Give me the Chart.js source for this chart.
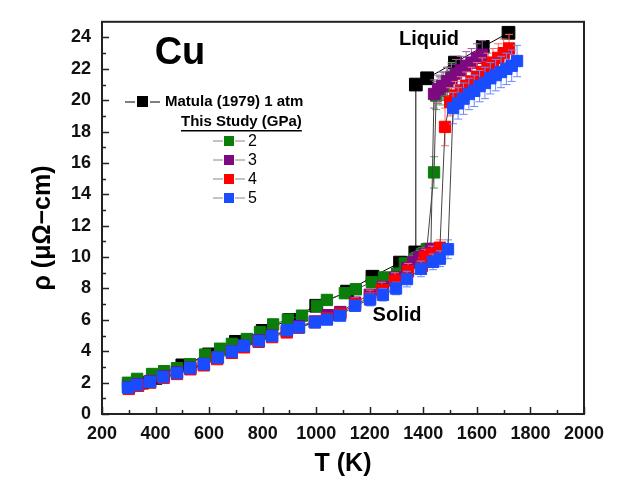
<!DOCTYPE html>
<html>
<head>
<meta charset="utf-8">
<script src="https://cdn.jsdelivr.net/npm/chart.js@4"></script>
<style>
  body { margin: 0; background: #fff; }
  canvas { display: block; }
</style>
</head>
<body>
<canvas id="rhoChart" width="619" height="479"></canvas>
<script>
// Matula (1979), 1 atm
const tMatula = [300, 350, 400, 500, 600, 700, 800, 900, 1000, 1115, 1210, 1313, 1370, 1372, 1414, 1518, 1622, 1718];
const rhoMatula = [1.8, 2.0, 2.3, 3.1, 3.8, 4.6, 5.3, 6.0, 6.9, 7.8, 8.75, 9.65, 10.3, 21.0, 21.4, 22.4, 23.4, 24.3];

// This study, 2 GPa
const t2 = [297, 331, 387, 432, 480, 529, 585, 641, 685, 741, 790, 839, 894, 947, 1003, 1040, 1107, 1148, 1208, 1253, 1302, 1331, 1370, 1395, 1413, 1440, 1448, 1462, 1476, 1490, 1505];
const rho2 = [1.99, 2.24, 2.55, 2.73, 2.92, 3.17, 3.79, 4.16, 4.47, 4.78, 5.22, 5.71, 6.02, 6.27, 6.89, 7.27, 7.7, 7.95, 8.4, 8.7, 8.95, 9.6, 9.9, 10.2, 10.5, 15.4, 20.3, 20.6, 20.9, 21.2, 21.5];
const err2 = [0.2, 0.2, 0.2, 0.2, 0.2, 0.2, 0.2, 0.2, 0.2, 0.2, 0.2, 0.2, 0.2, 0.2, 0.2, 0.2, 0.3, 0.3, 0.3, 0.3, 0.3, 0.3, 0.4, 0.4, 0.4, 1.0, 0.9, 0.9, 0.9, 0.9, 0.9];

// 3 GPa
const t3 = [300, 335, 380, 430, 480, 530, 580, 630, 685, 730, 785, 835, 890, 935, 995, 1044, 1090, 1145, 1200, 1250, 1295, 1340, 1362, 1385, 1408, 1428, 1440, 1455, 1470, 1488, 1505, 1522, 1540, 1560, 1580, 1600, 1620];
const rho3 = [1.7, 1.9, 2.1, 2.4, 2.65, 2.95, 3.2, 3.6, 4.0, 4.35, 4.7, 5.0, 5.3, 5.6, 5.9, 6.3, 6.5, 7.1, 7.6, 8.1, 8.7, 9.3, 9.7, 10.0, 10.2, 10.5, 20.4, 20.7, 20.9, 21.2, 21.4, 21.7, 21.9, 22.2, 22.4, 22.7, 22.9];
const err3 = [0.2, 0.2, 0.2, 0.2, 0.2, 0.2, 0.2, 0.2, 0.2, 0.2, 0.2, 0.2, 0.2, 0.2, 0.2, 0.2, 0.3, 0.3, 0.3, 0.3, 0.3, 0.3, 0.4, 0.4, 0.4, 0.4, 0.9, 0.9, 0.9, 0.9, 0.9, 0.9, 0.9, 0.9, 0.9, 0.9, 0.9];

// 4 GPa
const t4 = [300, 335, 380, 430, 480, 530, 580, 630, 685, 730, 785, 835, 890, 935, 995, 1040, 1090, 1145, 1201, 1245, 1294, 1343, 1395, 1406, 1432, 1462, 1481, 1500, 1520, 1540, 1560, 1580, 1600, 1620, 1640, 1660, 1680, 1700, 1720];
const rho4 = [1.6, 1.8, 2.0, 2.3, 2.55, 2.85, 3.1, 3.5, 3.9, 4.25, 4.6, 4.9, 5.2, 5.5, 5.85, 6.1, 6.4, 7.0, 7.4, 7.9, 8.5, 9.1, 9.45, 10.0, 10.2, 10.6, 18.3, 19.9, 20.3, 20.6, 20.9, 21.2, 21.5, 21.8, 22.1, 22.4, 22.7, 23.0, 23.3];
const err4 = [0.2, 0.2, 0.2, 0.2, 0.2, 0.2, 0.2, 0.2, 0.2, 0.2, 0.2, 0.2, 0.2, 0.2, 0.2, 0.2, 0.3, 0.4, 0.5, 0.5, 0.5, 0.5, 0.5, 0.5, 0.5, 0.5, 1.2, 0.9, 0.9, 0.9, 0.9, 0.9, 0.9, 0.9, 0.9, 0.9, 0.9, 0.9, 0.9];

// 5 GPa
const t5 = [297, 331, 379, 428, 480, 529, 581, 633, 685, 730, 786, 835, 891, 936, 995, 1040, 1089, 1145, 1201, 1249, 1298, 1339, 1391, 1436, 1462, 1492, 1511, 1530, 1550, 1570, 1590, 1610, 1630, 1650, 1670, 1690, 1710, 1730, 1750];
const rho5 = [1.68, 1.86, 2.05, 2.36, 2.61, 2.92, 3.17, 3.6, 3.98, 4.35, 4.66, 4.97, 5.34, 5.53, 5.84, 6.02, 6.27, 6.9, 7.3, 7.6, 8.0, 8.6, 9.25, 9.7, 9.9, 10.5, 19.5, 19.8, 20.1, 20.4, 20.6, 20.9, 21.1, 21.4, 21.6, 21.8, 22.0, 22.2, 22.5];
const err5 = [0.2, 0.2, 0.2, 0.2, 0.2, 0.2, 0.2, 0.2, 0.2, 0.2, 0.2, 0.2, 0.2, 0.2, 0.2, 0.2, 0.3, 0.3, 0.4, 0.4, 0.4, 0.5, 0.5, 0.5, 0.5, 0.6, 1.0, 1.0, 1.0, 1.0, 1.0, 1.0, 1.0, 1.0, 1.0, 1.0, 1.0, 1.0, 1.0];

const xTicks = { min: 200, max: 2000, step: 200, minor: 100 };
const yTicks = { min: 0, max: 25, step: 2, minor: 1 };

const FONT = "'Liberation Sans', Arial, sans-serif";

function toPoints(ts, rs) {
    return ts.map((t, i) => ({ x: t, y: rs[i] }));
}

function makeSet(label, ts, rs, errs, color, errColor, lineColor, radius, order) {
    return {
        label: label,
        data: toPoints(ts, rs),
        errors: errs,
        errColor: errColor,
        showLine: true,
        borderColor: lineColor,
        borderWidth: 1,
        pointStyle: 'rect',
        pointRadius: radius,
        pointHoverRadius: radius,
        pointBackgroundColor: color,
        pointBorderColor: color,
        pointBorderWidth: 1,
        order: order
    };
}

// error bars, drawn under each series' own squares
const errorBars = {
    id: 'errorBars',
    beforeDatasetDraw(chart, args) {
        const ds = chart.data.datasets[args.index];
        if (!ds.errors) return;
        const ctx = chart.ctx;
        const xs = chart.scales.x, ys = chart.scales.y;
        ctx.save();
        ctx.strokeStyle = ds.errColor;
        ctx.lineWidth = 1;
        ds.data.forEach((p, i) => {
            const e = ds.errors[i];
            const px = xs.getPixelForValue(p.x);
            const y1 = ys.getPixelForValue(p.y - e);
            const y2 = ys.getPixelForValue(p.y + e);
            ctx.beginPath();
            ctx.moveTo(px, y1); ctx.lineTo(px, y2);
            ctx.moveTo(px - 4, y1); ctx.lineTo(px + 4, y1);
            ctx.moveTo(px - 4, y2); ctx.lineTo(px + 4, y2);
            ctx.stroke();
        });
        ctx.restore();
    }
};

// frame, inward ticks, labels and legend
const frame = {
    id: 'frame',
    afterDraw(chart) {
        const ctx = chart.ctx;
        const a = chart.chartArea;
        const xs = chart.scales.x, ys = chart.scales.y;
        ctx.save();
        ctx.strokeStyle = '#222';
        ctx.lineWidth = 2;
        ctx.strokeRect(a.left, a.top, a.right - a.left, a.bottom - a.top);

        ctx.lineWidth = 1.5;
        ctx.beginPath();
        for (let v = xTicks.min; v <= xTicks.max; v += xTicks.minor) {
            const px = Math.round(xs.getPixelForValue(v)) + 0.5;
            const len = (v - xTicks.min) % xTicks.step === 0 ? 7 : 4;
            ctx.moveTo(px, a.bottom); ctx.lineTo(px, a.bottom - len);
        }
        for (let v = yTicks.min; v <= 24; v += yTicks.minor) {
            const py = Math.round(ys.getPixelForValue(v)) + 0.5;
            const len = v % yTicks.step === 0 ? 7 : 4;
            ctx.moveTo(a.left, py); ctx.lineTo(a.left + len, py);
        }
        ctx.stroke();

        ctx.fillStyle = '#000';
        ctx.textBaseline = 'middle';
        ctx.textAlign = 'center';

        // y axis title
        ctx.save();
        ctx.translate(43, 228);
        ctx.rotate(-Math.PI / 2);
        ctx.font = 'bold 25px ' + FONT;
        ctx.fillText('ρ (μΩ−cm)', 0, 0);
        ctx.restore();

        ctx.font = 'bold 38px ' + FONT;
        ctx.fillText('Cu', 180, 54);
        ctx.font = 'bold 20px ' + FONT;
        ctx.fillText('Liquid', 429, 39);
        ctx.fillText('Solid', 397, 315);

        // legend
        const entries = [
            { text: '2', color: '#0a7d0a' },
            { text: '3', color: '#7d0a80' },
            { text: '4', color: '#ff0000' },
            { text: '5', color: '#1a4cff' }
        ];
        ctx.lineWidth = 1;
        ctx.strokeStyle = '#000';
        ctx.beginPath();
        ctx.moveTo(125, 102); ctx.lineTo(135, 102);
        ctx.moveTo(150, 102); ctx.lineTo(160, 102);
        ctx.stroke();
        ctx.fillRect(137, 96, 11, 11);
        ctx.textAlign = 'left';
        ctx.font = 'bold 15px ' + FONT;
        ctx.fillText('Matula (1979) 1 atm', 165, 102);
        ctx.fillText('This Study (GPa)', 181, 122);
        const w = ctx.measureText('This Study (GPa)').width;
        ctx.fillRect(181, 130, w, 1.5);
        ctx.font = '16px ' + FONT;
        entries.forEach((e, i) => {
            const y = 141 + i * 19;
            ctx.strokeStyle = '#888';
            ctx.beginPath();
            ctx.moveTo(213, y); ctx.lineTo(223, y);
            ctx.moveTo(235, y); ctx.lineTo(245, y);
            ctx.stroke();
            ctx.fillStyle = e.color;
            ctx.fillRect(224, y - 5, 10, 10);
            ctx.fillStyle = '#000';
            ctx.fillText(e.text, 248, y + 1);
        });
        ctx.restore();
    }
};

const ctx = document.getElementById('rhoChart').getContext('2d');
const chart = new Chart(ctx, {
    type: 'scatter',
    data: {
        datasets: [
            makeSet('Matula (1979) 1 atm', tMatula, rhoMatula, null, '#000', '#000', '#000', 9, 5),
            makeSet('2', t2, rho2, err2, '#0a7d0a', '#5aa55a', '#444', 8, 4),
            makeSet('3', t3, rho3, err3, '#7d0a80', '#a560a8', '#444', 8, 3),
            makeSet('4', t4, rho4, err4, '#ff0000', '#ff6a6a', '#444', 8, 2),
            makeSet('5', t5, rho5, err5, '#1a4cff', '#6a8aff', '#444', 8, 1)
        ]
    },
    options: {
        responsive: false,
        animation: false,
        devicePixelRatio: 1,
        layout: { padding: { top: 12, right: 35, left: 0, bottom: 0 } },
        plugins: {
            legend: { display: false },
            tooltip: { enabled: false }
        },
        scales: {
            x: {
                type: 'linear',
                min: xTicks.min,
                max: xTicks.max,
                afterFit(scale) { scale.height = 65; },
                grid: { display: false, drawTicks: false },
                border: { display: false },
                ticks: {
                    stepSize: xTicks.step,
                    includeBounds: false,
                    padding: 9,
                    color: '#111',
                    callback: v => String(v),
                    font: { family: FONT, size: 18, weight: 'bold' }
                },
                title: {
                    display: true,
                    text: 'T (K)',
                    color: '#000',
                    padding: { top: 3, bottom: 0 },
                    font: { family: FONT, size: 25, weight: 'bold' }
                }
            },
            y: {
                type: 'linear',
                min: yTicks.min,
                max: yTicks.max,
                afterFit(scale) { scale.width = 102; },
                grid: { display: false, drawTicks: false },
                border: { display: false },
                ticks: {
                    stepSize: yTicks.step,
                    includeBounds: false,
                    padding: 11,
                    color: '#111',
                    callback: v => String(v),
                    font: { family: FONT, size: 18, weight: 'bold' }
                },
                title: { display: false }
            }
        }
    },
    plugins: [errorBars, frame]
});
</script>
</body>
</html>
